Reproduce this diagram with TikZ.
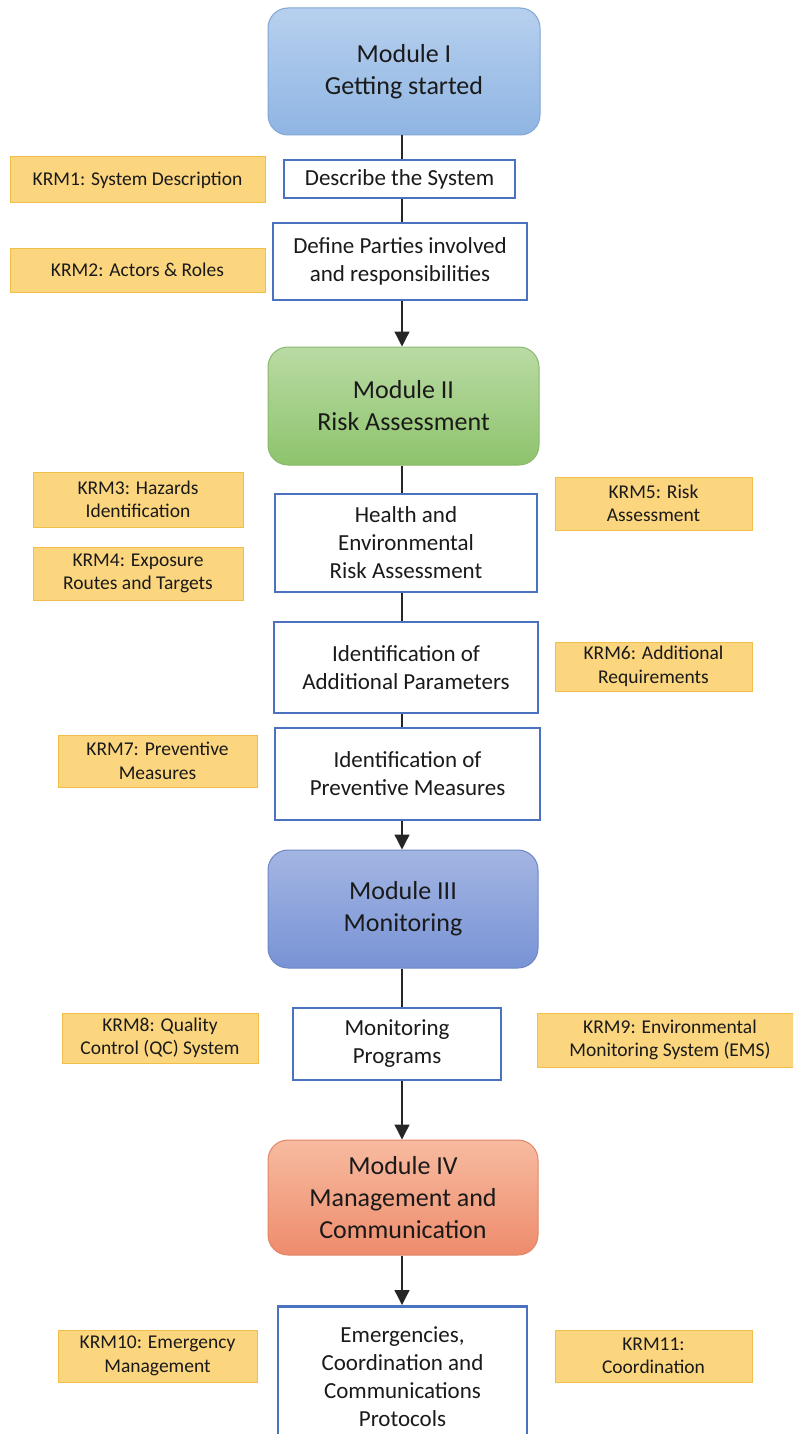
\documentclass[tikz,border=0pt]{standalone}
\usepackage{fontspec}
\setmainfont{Carlito}
\usetikzlibrary{arrows.meta}
\definecolor{boxblue}{HTML}{4A72C0}
\definecolor{krmfill}{HTML}{FCD67E}
\definecolor{krmdraw}{HTML}{F2BE4A}
\definecolor{m1top}{HTML}{B7D0EE}
\definecolor{m1bot}{HTML}{8FB5E3}
\definecolor{m1drw}{HTML}{7FA6D6}
\definecolor{m2top}{HTML}{B9DBA4}
\definecolor{m2bot}{HTML}{8EC36C}
\definecolor{m2drw}{HTML}{8AB86C}
\definecolor{m3top}{HTML}{A3B5E2}
\definecolor{m3bot}{HTML}{7893D5}
\definecolor{m3drw}{HTML}{6D86C6}
\definecolor{m4top}{HTML}{F7BBA0}
\definecolor{m4bot}{HTML}{EE8C6C}
\definecolor{m4drw}{HTML}{E2866A}
\definecolor{txt}{HTML}{1A1A1A}
\tikzset{
  module/.style={rounded corners=20pt, line width=1pt, align=center, inner sep=0pt,
    text=txt, font=\fontsize{26}{32}\selectfont, shading=axis, shading angle=0},
  stepbox/.style={draw=boxblue, line width=2.6pt, fill=white, align=center, inner sep=0pt,
    text=txt, font=\fontsize{23}{28}\selectfont},
  krm/.style={draw=krmdraw, fill=krmfill, line width=1pt, align=center, inner sep=0pt,
    text=txt, font=\fontsize{19.5}{23.5}\selectfont},
  conn/.style={line width=1.3pt, draw=black!85},
  arr/.style={conn, -{Triangle[width=15pt,length=15pt]}}
}
\begin{document}
\begin{tikzpicture}[x=1pt,y=-1pt]
\useasboundingbox (0,0) rectangle (793,1434);
\clip (0,0) rectangle (793,1434);
\fill[white] (0,0) rectangle (793,1434);
% modules
\node[module, draw=m1drw, top color=m1top, bottom color=m1bot, minimum width=272pt, minimum height=127pt] (m1) at (404,71.5) {Module I\\Getting started};
\node[module, draw=m2drw, top color=m2top, bottom color=m2bot, minimum width=271pt, minimum height=118pt] (m2) at (403.5,406) {Module II\\Risk Assessment};
\node[module, draw=m3drw, top color=m3top, bottom color=m3bot, minimum width=270pt, minimum height=118pt] (m3) at (403,909) {Module III\\Monitoring};
\node[module, draw=m4drw, top color=m4top, bottom color=m4bot, minimum width=270pt, minimum height=115pt] (m4) at (403,1197.5) {Module IV\\Management and\\Communication};
% step boxes
\node[stepbox, minimum width=231pt, minimum height=38pt] (d1) at (399.5,179) {Describe the System};
\node[stepbox, minimum width=254pt, minimum height=77pt] (d2) at (400,261.5) {\fontsize{23}{30}\selectfont Define Parties involved\\and responsibilities};
\node[stepbox, minimum width=262pt, minimum height=98pt] (hr) at (406,543) {Health and\\Environmental\\Risk Assessment};
\node[stepbox, minimum width=264pt, minimum height=91pt] (ap) at (406,667.5) {\fontsize{23}{30}\selectfont Identification of\\Additional Parameters};
\node[stepbox, minimum width=265pt, minimum height=92pt] (pm) at (407.5,774) {\fontsize{23}{30}\selectfont Identification of\\Preventive Measures};
\node[stepbox, minimum width=208pt, minimum height=72pt] (mp) at (397,1044) {Monitoring\\Programs};
\node[stepbox, minimum width=249pt, minimum height=140pt, anchor=north] (ec) at (402.5,1305) {Emergencies,\\Coordination and\\Communications\\Protocols};
% KRM boxes
\node[krm, minimum width=255pt, minimum height=46pt] (k1) at (137.5,180) {KRM1: System Description};
\node[krm, minimum width=255pt, minimum height=44pt] (k2) at (137.5,270) {KRM2: Actors \& Roles};
\node[krm, minimum width=210pt, minimum height=55pt] (k3) at (138,499.5) {KRM3: Hazards\\Identification};
\node[krm, minimum width=210pt, minimum height=53pt] (k4) at (138,573.5) {KRM4: Exposure\\Routes and Targets};
\node[krm, minimum width=197pt, minimum height=53pt] (k5) at (653.5,503.5) {KRM5: Risk\\Assessment};
\node[krm, minimum width=197pt, minimum height=49pt] (k6) at (653.5,666.5) {KRM6: Additional\\Requirements};
\node[krm, minimum width=199pt, minimum height=52pt] (k7) at (157.5,761) {KRM7: Preventive\\Measures};
\node[krm, minimum width=196pt, minimum height=50pt] (k8) at (160,1038) {KRM8: Quality\\Control (QC) System};
\node[krm, minimum width=266pt, minimum height=54pt] (k9) at (670,1040) {KRM9: Environmental\\Monitoring System (EMS)};
\node[krm, minimum width=199pt, minimum height=52pt] (k10) at (157.5,1356) {KRM10: Emergency\\Management};
\node[krm, minimum width=197pt, minimum height=52pt] (k11) at (653.5,1356) {KRM11:\\Coordination};
% connectors
\coordinate (x) at (402,0);
\draw[conn] (m1.south -| x) -- (d1.north -| x);
\draw[conn] (d1.south -| x) -- (d2.north -| x);
\draw[arr] (d2.south -| x) -- (m2.north -| x);
\draw[conn] (m2.south -| x) -- (hr.north -| x);
\draw[conn] (hr.south -| x) -- (ap.north -| x);
\draw[conn] (ap.south -| x) -- (pm.north -| x);
\draw[arr] (pm.south -| x) -- (m3.north -| x);
\draw[conn] (m3.south -| x) -- (mp.north -| x);
\draw[arr] (mp.south -| x) -- (m4.north -| x);
\draw[arr] (m4.south -| x) -- (ec.north -| x);
\end{tikzpicture}
\end{document}
